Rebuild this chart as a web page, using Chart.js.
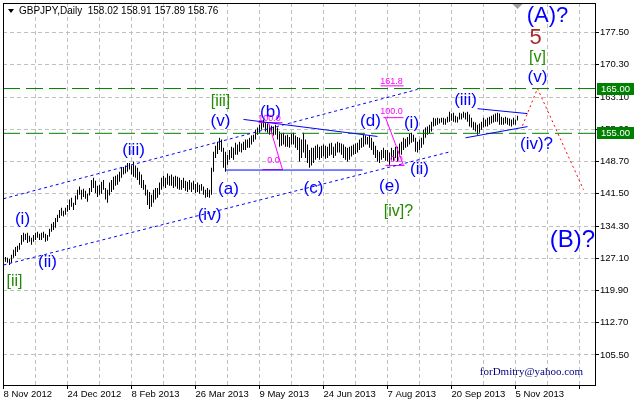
<!DOCTYPE html>
<html>
<head>
<meta charset="utf-8">
<script src="https://cdn.jsdelivr.net/npm/chart.js@4.4.0/dist/chart.umd.min.js"></script>
<style>
  html, body { margin: 0; padding: 0; background: #fff; }
</style>
</head>
<body>
<canvas id="chart" width="634" height="403"></canvas>
<script>
// --- Data ---
const symbolTitle = "GBPJPY,Daily";
const lastBarOHLC = [158.02, 158.91, 157.89, 158.76];

const dateLabels = ["8 Nov 2012", "24 Dec 2012", "8 Feb 2013", "26 Mar 2013", "9 May 2013",
  "24 Jun 2013", "7 Aug 2013", "20 Sep 2013", "5 Nov 2013"];
const priceTicks = [105.5, 112.7, 119.9, 127.1, 134.3, 141.5, 148.7, 155.9, 163.1, 170.3, 177.5];

// daily bars, index 1..257
const barHigh = [
  127.4,127.2,127.0,127.9,129.0,129.6,129.9,130.5,132.3,132.8,
  132.6,132.8,132.1,131.7,132.3,132.8,133.0,132.6,132.8,133.0,
  132.6,132.3,133.7,134.8,135.2,136.1,136.8,137.9,138.4,137.7,
  138.4,139.0,140.2,140.6,139.5,141.1,142.4,143.1,142.4,142.6,
  142.2,141.5,142.8,144.6,145.1,144.4,143.3,143.5,144.2,144.6,
  142.8,142.4,144.0,144.6,145.3,145.5,145.8,146.4,147.5,147.5,
  147.8,148.4,148.4,147.8,148.7,147.8,147.3,146.4,145.8,144.6,
  143.5,142.4,141.9,141.3,142.4,142.8,142.8,144.0,145.1,145.5,
  145.1,146.0,145.5,145.8,145.3,145.5,145.3,145.1,144.6,145.1,
  144.4,144.2,144.6,144.0,144.4,143.7,144.0,143.5,143.7,143.1,
  142.4,142.8,142.4,147.3,150.9,152.2,153.1,154.0,153.6,151.8,
  150.9,150.2,151.3,152.0,151.8,152.9,152.5,153.1,152.7,153.1,
  153.6,153.6,154.0,154.5,154.7,155.8,156.3,156.9,157.6,158.1,
  157.4,157.2,156.9,156.7,156.5,156.9,156.3,155.4,154.9,155.1,
  154.5,154.7,154.2,154.9,155.1,154.5,154.2,154.0,153.6,155.1,
  153.6,152.5,151.3,151.8,151.8,152.2,152.5,152.0,152.2,152.5,
  152.2,152.0,152.7,152.9,152.0,152.7,153.1,152.9,152.7,152.5,
  152.0,151.8,152.0,152.2,152.5,152.7,152.9,153.6,154.0,154.7,
  154.5,154.2,154.5,154.0,153.1,152.2,151.3,150.9,151.3,151.8,
  151.3,151.3,150.7,151.8,151.3,152.0,152.0,152.7,153.1,154.0,
  153.8,154.2,154.9,155.1,154.7,154.0,153.1,153.6,154.0,155.8,
  156.3,156.5,156.9,157.6,158.5,158.3,158.5,158.3,158.5,158.5,
  158.3,158.7,159.8,159.4,159.6,158.9,158.7,159.6,159.4,159.8,
  159.6,159.8,159.2,158.5,157.6,157.4,156.9,157.2,157.6,158.5,
  158.1,158.5,158.7,158.9,159.2,159.4,159.6,159.4,158.7,158.5,
  158.7,158.5,158.3,158.1,158.5,158.1,158.91
];
const barLow = [
  126.3,126.1,125.6,126.1,127.2,127.6,128.5,129.0,130.1,130.8,
  131.2,130.5,130.8,130.1,130.8,131.2,131.7,131.2,131.2,131.7,
  130.8,131.0,131.9,133.0,133.4,133.9,135.2,136.1,136.6,136.4,
  136.8,137.5,137.9,138.6,137.9,139.0,140.2,141.3,140.2,140.8,
  140.4,139.7,141.1,141.9,142.8,141.7,140.8,141.3,141.5,142.4,
  140.2,139.5,141.1,141.9,142.4,143.3,143.5,144.2,145.1,145.8,
  146.0,146.4,146.9,145.8,145.3,145.1,144.6,143.5,142.8,142.4,
  141.1,139.0,138.1,138.6,139.5,140.2,140.6,141.3,142.4,143.1,
  142.8,143.5,143.3,143.3,142.8,143.1,142.6,142.4,142.4,142.8,
  142.2,141.9,142.4,141.9,142.4,141.7,141.9,141.5,142.2,141.3,
  140.6,140.8,140.6,141.3,146.4,149.5,150.4,151.3,150.9,147.3,
  146.4,148.0,149.1,149.5,149.1,150.2,150.2,150.9,150.7,151.3,
  151.3,151.8,151.8,152.5,153.1,153.6,154.7,155.1,155.8,156.3,
  155.4,155.1,154.7,154.9,154.5,154.7,153.6,152.0,152.2,152.5,
  152.0,152.0,151.8,152.5,152.5,151.8,151.3,148.7,149.5,150.7,
  149.5,148.4,147.3,147.8,148.4,149.1,149.5,149.1,149.5,149.8,
  149.3,149.5,150.0,150.2,149.5,150.0,150.7,150.7,150.2,149.5,
  149.1,148.7,149.1,149.8,150.2,150.4,150.7,151.3,151.8,152.0,
  152.5,152.5,151.8,151.3,150.2,149.5,148.7,148.4,149.1,149.5,
  148.9,148.7,148.0,149.1,148.9,149.5,148.7,150.0,150.2,151.3,
  151.8,152.0,152.5,152.9,153.1,150.9,150.7,151.3,151.8,152.5,
  154.0,154.7,154.9,155.4,156.5,156.7,156.9,157.2,157.4,156.9,
  156.9,157.4,157.6,157.8,157.6,157.4,157.4,158.1,158.1,158.5,
  158.1,157.6,156.5,156.3,155.8,155.4,154.7,155.1,155.8,156.3,
  156.5,156.5,156.9,157.2,157.4,157.6,157.6,156.9,156.9,156.9,
  157.2,156.9,156.7,156.5,156.9,156.9,157.89
];

// horizontal levels
const levelPrices = [165.0, 155.0];

// wave markup lines: [bar index, price]
const upperChannel = [[0, 140.4], [207, 164.8]];
const lowerChannel = [[0, 125.6], [223.5, 150.9]];
const triangleTop = [[120, 158.1], [187, 154.3]];
const triangleBase = [[111, 146.8], [179.5, 146.8]];
const smallTriTop = [[237, 160.5], [262, 159.4]];
const smallTriBase = [[231, 154.0], [262, 156.5]];
const projection = [[259.5, 156.7], [267, 165.0], [290, 142.4]];
const fib1Diag = [[132.5, 157.4], [139.5, 146.9]];
const fib1Top = [[127.5, 157.4], [139.5, 157.4]];
const fib1Base = [[129.5, 146.9], [139.5, 146.9]];
const fib2Diag = [[191, 158.5], [200, 147.8]];
const fib2Top = [[190, 158.5], [200, 158.5]];
const fib2Base = [[191, 147.8], [200.5, 147.8]];
const fib2Ext = [[188.5, 165.6], [200, 165.6]];

const BLUE = "#0000ff", GREEN = "#228b00", MAGENTA = "#ff00ff";
const waveLabels = [
  { t: "(i)", x: 9.5, y: 135.9, c: BLUE, s: 17 },
  { t: "(ii)", x: 22, y: 126.3, c: BLUE, s: 17 },
  { t: "[ii]", x: 5.5, y: 121.8, c: GREEN, s: 16 },
  { t: "(iii)", x: 65, y: 151.3, c: BLUE, s: 17 },
  { t: "(iv)", x: 103, y: 136.6, c: BLUE, s: 17 },
  { t: "(a)", x: 112.5, y: 142.4, c: BLUE, s: 17 },
  { t: "(v)", x: 108.5, y: 157.6, c: BLUE, s: 17 },
  { t: "[iii]", x: 108.5, y: 162.1, c: GREEN, s: 16 },
  { t: "(b)", x: 133.5, y: 159.8, c: BLUE, s: 17 },
  { t: "(c)", x: 155, y: 142.8, c: BLUE, s: 17 },
  { t: "(d)", x: 183.5, y: 157.6, c: BLUE, s: 17 },
  { t: "(e)", x: 193, y: 143.1, c: BLUE, s: 17 },
  { t: "[iv]?", x: 197.5, y: 137.5, c: GREEN, s: 16 },
  { t: "(i)", x: 204, y: 157.2, c: BLUE, s: 17 },
  { t: "(ii)", x: 208, y: 146.9, c: BLUE, s: 17 },
  { t: "(iii)", x: 231, y: 162.3, c: BLUE, s: 17 },
  { t: "(iv)?", x: 266.5, y: 152.5, c: BLUE, s: 17 },
  { t: "(v)", x: 267, y: 167.4, c: BLUE, s: 17 },
  { t: "[v]", x: 267, y: 171.9, c: GREEN, s: 16 },
  { t: "5", x: 266, y: 176.4, c: "#a52a2a", s: 22 },
  { t: "(A)?", x: 272, y: 181.1, c: BLUE, s: 22 },
  { t: "(B)?", x: 284.5, y: 131.2, c: BLUE, s: 24 },
  { t: "100.0", x: 133, y: 158.3, c: MAGENTA, s: 9 },
  { t: "0.0", x: 135, y: 148.9, c: MAGENTA, s: 9 },
  { t: "100.0", x: 194, y: 159.8, c: MAGENTA, s: 9 },
  { t: "0.0", x: 196.5, y: 149.1, c: MAGENTA, s: 9 },
  { t: "161.8", x: 194, y: 166.5, c: MAGENTA, s: 9 }
];

const AXIS_FONT = "'Liberation Sans', Arial, sans-serif";

function lineSet(points, color, dash) {
  return {
    type: "line",
    data: points.map(p => ({ x: p[0], y: p[1] })),
    borderColor: color,
    borderWidth: 1,
    borderDash: dash || [],
    pointRadius: 0,
    fill: false,
    tension: 0
  };
}

// --- Plugins for frame, header, labels ---
const framePlugin = {
  id: "frame",
  afterDraw(chart) {
    const { ctx, chartArea: a } = chart;
    ctx.save();
    ctx.fillStyle = "#000";
    ctx.fillRect(a.left, a.top, 1, a.bottom - a.top);
    ctx.fillRect(a.left, a.top, a.right - a.left, 1);

    // shift marker
    const sx = chart.scales.x.getPixelForValue(barHigh.length);
    ctx.fillStyle = "#a0a0a0";
    ctx.beginPath();
    ctx.moveTo(sx - 5, a.top + 1);
    ctx.lineTo(sx + 5, a.top + 1);
    ctx.lineTo(sx, a.top + 6);
    ctx.fill();

    // header
    ctx.fillStyle = "#000";
    ctx.beginPath();
    ctx.moveTo(8, 9); ctx.lineTo(14, 9); ctx.lineTo(11, 13);
    ctx.fill();
    ctx.font = "10px " + AXIS_FONT;
    ctx.textBaseline = "middle";
    ctx.textAlign = "left";
    ctx.fillText(symbolTitle + "  " + lastBarOHLC.map(v => v.toFixed(2)).join(" "), 19, 11);

    // level price boxes on the axis
    const y = chart.scales.y;
    levelPrices.forEach(p => {
      const py = Math.round(y.getPixelForValue(p));
      ctx.fillStyle = "#008000";
      ctx.fillRect(a.right + 2, py - 6, 634 - a.right - 2, 12);
      ctx.fillStyle = "#fff";
      ctx.font = "9.5px " + AXIS_FONT;
      ctx.fillText(p.toFixed(2), a.right + 6, py);
    });

    // e-mail
    ctx.fillStyle = "#000080";
    ctx.font = "11px 'Liberation Serif', serif";
    ctx.textAlign = "center";
    ctx.fillText("forDmitry@yahoo.com", chart.scales.x.getPixelForValue(264), y.getPixelForValue(101.7));
    ctx.restore();
  }
};

const labelPlugin = {
  id: "waveLabels",
  afterDatasetsDraw(chart) {
    const { ctx } = chart;
    const xs = chart.scales.x, ys = chart.scales.y;
    ctx.save();
    ctx.textAlign = "center";
    ctx.textBaseline = "middle";
    waveLabels.forEach(l => {
      ctx.font = l.s + "px 'Liberation Sans', Arial, sans-serif";
      ctx.fillStyle = l.c;
      ctx.fillText(l.t, xs.getPixelForValue(l.x), ys.getPixelForValue(l.y));
    });
    ctx.restore();
  }
};

const datasets = [
  lineSet(projection, "#ff0000", [2, 3]),
  lineSet(upperChannel, BLUE, [3, 3]),
  lineSet(lowerChannel, BLUE, [3, 3]),
  lineSet(triangleTop, BLUE),
  lineSet(triangleBase, BLUE),
  lineSet(smallTriTop, BLUE),
  lineSet(smallTriBase, BLUE),
  lineSet(fib1Diag, MAGENTA),
  lineSet(fib1Top, MAGENTA),
  lineSet(fib1Base, MAGENTA),
  lineSet(fib2Diag, MAGENTA),
  lineSet(fib2Top, MAGENTA),
  lineSet(fib2Base, MAGENTA),
  lineSet(fib2Ext, MAGENTA),
  ...levelPrices.map(p => lineSet([[-0.25, p], [295.75, p]], "#008000", [17, 6])),
  {
    type: "bar",
    data: barHigh.map((h, k) => ({ x: k + 1, y: [barLow[k], h] })),
    backgroundColor: "#000",
    borderWidth: 0,
    barThickness: 1,
    inflateAmount: 0,
    grouped: false
  }
];

new Chart(document.getElementById("chart"), {
  type: "bar",
  data: { datasets },
  options: {
    responsive: false,
    animation: false,
    layout: { padding: { left: 3, top: 3, right: 0, bottom: 0 } },
    plugins: { legend: { display: false }, tooltip: { enabled: false } },
    scales: {
      x: {
        type: "linear",
        // quarter-bar shift keeps 1px bars on whole pixels
        min: -0.25,
        max: 295.75,
        offset: false,
        afterBuildTicks: s => {
          s.ticks = [];
          for (let v = 0; v <= 288; v += 16) s.ticks.push({ value: v });
        },
        afterFit: s => { s.height = 18; s.paddingLeft = 0; s.paddingRight = 0; },
        grid: {
          offset: false,
          color: "#c0c0c0",
          tickLength: 4,
          tickColor: c => (c.tick && c.tick.value % 32 === 0) ? "#000" : "rgba(0,0,0,0)"
        },
        border: { display: true, color: "#000", width: 1, dash: [4, 3] },
        ticks: {
          autoSkip: false,
          maxRotation: 0,
          align: "start",
          padding: 0,
          color: "#000",
          font: { family: AXIS_FONT, size: 9.5 },
          callback: v => (v % 32 === 0 ? dateLabels[v / 32] || "" : "")
        }
      },
      y: {
        position: "right",
        min: 98.8,
        max: 184.1,
        afterBuildTicks: s => { s.ticks = priceTicks.map(v => ({ value: v })); },
        afterFit: s => { s.width = 39; s.paddingTop = 0; s.paddingBottom = 0; },
        grid: { color: "#c0c0c0", tickColor: "#000", tickLength: 4 },
        border: { display: true, color: "#000", width: 1, dash: [4, 3] },
        ticks: {
          autoSkip: false,
          padding: 1,
          color: "#000",
          font: { family: AXIS_FONT, size: 9.5 },
          callback: v => Number(v).toFixed(2)
        }
      }
    }
  },
  plugins: [framePlugin, labelPlugin]
});
</script>
</body>
</html>
